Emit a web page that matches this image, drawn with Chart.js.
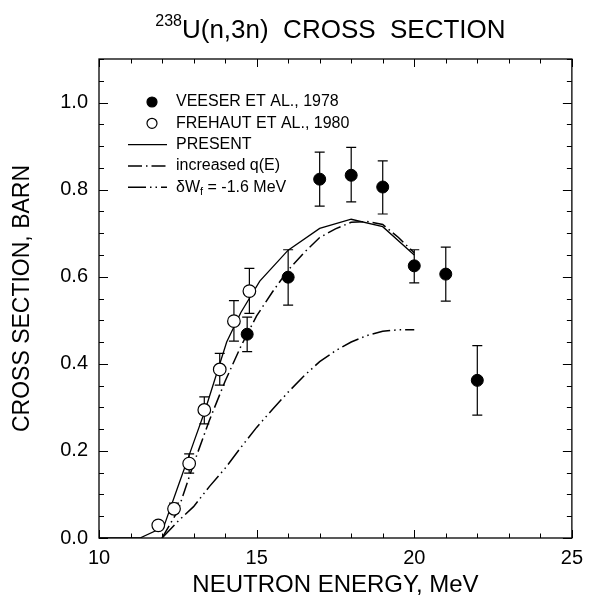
<!DOCTYPE html>
<html>
<head>
<meta charset="utf-8">
<title>238U(n,3n) cross section</title>
<script src="https://cdn.jsdelivr.net/npm/chart.js@4/dist/chart.umd.min.js"></script>
<style>
  html, body { margin: 0; padding: 0; background: #fff; }
  #wrap { width: 591px; height: 607px; }
</style>
</head>
<body>
<div id="wrap"><canvas id="xsChart" width="591" height="607"></canvas></div>
<script>
// Data
const veeserE  = [14.7, 16.0, 17.0, 18.0, 19.0, 20.0, 21.0, 22.0];
const veeserXS = [0.468, 0.599, 0.824, 0.833, 0.806, 0.625, 0.606, 0.362];
const veeserLo = [0.428, 0.535, 0.762, 0.772, 0.744, 0.586, 0.544, 0.282];
const veeserHi = [0.507, 0.662, 0.886, 0.897, 0.866, 0.662, 0.668, 0.442];

const frehautE  = [11.88, 12.38, 12.86, 13.34, 13.83, 14.28, 14.77];
const frehautXS = [0.029, 0.067, 0.171, 0.294, 0.387, 0.498, 0.567];
const frehautLo = [0.029, 0.057, 0.149, 0.262, 0.351, 0.452, 0.516];
const frehautHi = [0.029, 0.080, 0.193, 0.324, 0.424, 0.545, 0.619];

const presentE  = [10, 11.3, 12.05, 12.5, 13.0, 13.35, 14.05, 14.5, 15.1, 16, 17, 18, 19, 20];
const presentXS = [0, 0, 0.025, 0.117, 0.219, 0.29, 0.45, 0.518, 0.59, 0.661, 0.711, 0.732, 0.715, 0.65];

const qE  = [12.0, 12.5, 13.0, 13.5, 14.0, 14.5, 15.0, 15.5, 16.0, 16.5, 17.0, 17.5, 18.0, 18.5, 19.0, 19.5, 20.0];
const qXS = [0, 0.062, 0.17, 0.27, 0.36, 0.44, 0.51, 0.565, 0.615, 0.655, 0.69, 0.71, 0.725, 0.727, 0.72, 0.69, 0.655];

const wfE  = [12.0, 12.5, 13.0, 13.5, 14.0, 14.5, 15.0, 15.5, 16.0, 16.5, 17.0, 17.5, 18.0, 18.5, 19.0, 19.5, 20.0];
const wfXS = [0, 0.038, 0.072, 0.118, 0.16, 0.208, 0.254, 0.295, 0.335, 0.372, 0.405, 0.43, 0.45, 0.465, 0.475, 0.478, 0.478];

const xTickLabels = [10, 15, 20, 25];
const yTickLabels = [0, 0.2, 0.4, 0.6, 0.8, 1.0];

const FONT = "'Liberation Sans', Arial, Helvetica, sans-serif";
Chart.defaults.font.family = FONT;
Chart.defaults.color = '#000';

function toPoints(xs, ys) {
  return xs.map((x, i) => ({ x: x, y: ys[i] }));
}

// error bars for the measured points
const errorBarPlugin = {
  id: 'errorBars',
  beforeDatasetsDraw(chart) {
    const { ctx, scales: { x, y } } = chart;
    ctx.save();
    ctx.strokeStyle = '#000';
    ctx.lineWidth = 1.2;
    chart.data.datasets.forEach(ds => {
      if (!ds.errLo) return;
      ds.data.forEach((p, i) => {
        if (ds.errHi[i] - ds.errLo[i] < 0.001) return;
        const px = x.getPixelForValue(p.x);
        const y1 = y.getPixelForValue(ds.errLo[i]);
        const y2 = y.getPixelForValue(ds.errHi[i]);
        ctx.beginPath();
        ctx.moveTo(px, y1); ctx.lineTo(px, y2);
        ctx.moveTo(px - 5, y1); ctx.lineTo(px + 5, y1);
        ctx.moveTo(px - 5, y2); ctx.lineTo(px + 5, y2);
        ctx.stroke();
      });
    });
    ctx.restore();
  }
};

// box frame with inward ticks on all four sides
const framePlugin = {
  id: 'frame',
  afterDraw(chart) {
    const { ctx, chartArea: a, scales: { x, y } } = chart;
    ctx.save();
    ctx.strokeStyle = '#000';
    ctx.lineWidth = 1.3;
    ctx.strokeRect(a.left, a.top, a.right - a.left, a.bottom - a.top);
    ctx.lineWidth = 1;
    ctx.beginPath();
    for (let e = 10; e <= 25; e++) {
      const px = Math.round(x.getPixelForValue(e)) + 0.5;
      const len = e % 5 === 0 ? 8 : 4.5;
      ctx.moveTo(px, a.bottom); ctx.lineTo(px, a.bottom - len);
      ctx.moveTo(px, a.top); ctx.lineTo(px, a.top + len);
    }
    for (let k = 0; k <= 22; k++) {
      const py = Math.round(y.getPixelForValue(k * 0.05)) + 0.5;
      const len = k % 4 === 0 ? 9 : 5;
      ctx.moveTo(a.left, py); ctx.lineTo(a.left + len, py);
      ctx.moveTo(a.right, py); ctx.lineTo(a.right - len, py);
    }
    ctx.stroke();
    ctx.restore();
  }
};

// title with superscript mass number
const titlePlugin = {
  id: 'supTitle',
  afterDraw(chart) {
    const { ctx, chartArea: a } = chart;
    const sup = '238';
    const main = 'U(n,3n)  CROSS  SECTION';
    ctx.save();
    ctx.fillStyle = '#000';
    ctx.textBaseline = 'alphabetic';
    ctx.font = '16px ' + FONT;
    const wSup = ctx.measureText(sup).width;
    ctx.font = '26px ' + FONT;
    const wMain = ctx.measureText(main).width;
    const x0 = (a.left + a.right) / 2 - 5 - (wSup + wMain) / 2;
    ctx.fillText(main, x0 + wSup, 38);
    ctx.font = '16px ' + FONT;
    ctx.fillText(sup, x0, 26);
    ctx.restore();
  }
};

// legend inside the plot, top left
const legendPlugin = {
  id: 'insideLegend',
  afterDraw(chart) {
    const { ctx, chartArea: a } = chart;
    ctx.save();
    chart.data.datasets.forEach((ds, i) => {
      const cy = a.top + 43 + i * 21.3;
      const mx = a.left + 53;
      ctx.strokeStyle = '#000';
      ctx.fillStyle = '#000';
      if (ds.showLine) {
        ctx.lineWidth = ds.borderWidth;
        ctx.setLineDash(ds.borderDash || []);
        ctx.beginPath();
        ctx.moveTo(a.left + 29, cy);
        ctx.lineTo(a.left + 68, cy);
        ctx.stroke();
        ctx.setLineDash([]);
      } else {
        ctx.lineWidth = 1.2;
        ctx.beginPath();
        ctx.arc(mx, cy, 5, 0, Math.PI * 2);
        ctx.fillStyle = ds.pointBackgroundColor;
        ctx.fill();
        ctx.stroke();
      }
      // label, "_x" marks a one-letter subscript
      ctx.fillStyle = '#000';
      ctx.textBaseline = 'middle';
      let tx = a.left + 77;
      const parts = ds.label.split('_');
      parts.forEach((part, j) => {
        if (j > 0) {
          ctx.font = '11px ' + FONT;
          ctx.fillText(part[0], tx, cy + 5);
          tx += ctx.measureText(part[0]).width;
          part = part.slice(1);
        }
        ctx.font = '16px ' + FONT;
        ctx.fillText(part, tx, cy);
        tx += ctx.measureText(part).width;
      });
    });
    ctx.restore();
  }
};

const ctx = document.getElementById('xsChart').getContext('2d');
const xsChart = new Chart(ctx, {
  type: 'scatter',
  data: {
    datasets: [
      {
        label: 'VEESER ET AL., 1978',
        data: toPoints(veeserE, veeserXS),
        errLo: veeserLo, errHi: veeserHi,
        showLine: false,
        pointRadius: 6,
        pointBackgroundColor: '#000',
        pointBorderColor: '#000',
        pointBorderWidth: 1
      },
      {
        label: 'FREHAUT ET AL., 1980',
        data: toPoints(frehautE, frehautXS),
        errLo: frehautLo, errHi: frehautHi,
        showLine: false,
        pointRadius: 6.3,
        pointBackgroundColor: '#fff',
        pointBorderColor: '#000',
        pointBorderWidth: 1.2
      },
      {
        label: 'PRESENT',
        data: toPoints(presentE, presentXS),
        showLine: true,
        borderColor: '#000',
        borderWidth: 1.3,
        pointRadius: 0,
        tension: 0
      },
      {
        label: 'increased q(E)',
        data: toPoints(qE, qXS),
        showLine: true,
        borderColor: '#000',
        borderWidth: 1.5,
        borderDash: [14, 4, 1.5, 4],
        pointRadius: 0,
        tension: 0
      },
      {
        label: 'δW_f = -1.6 MeV',
        data: toPoints(wfE, wfXS),
        showLine: true,
        borderColor: '#000',
        borderWidth: 1.5,
        borderDash: [18, 4, 1.5, 4, 1.5, 4],
        pointRadius: 0,
        tension: 0
      }
    ]
  },
  options: {
    responsive: false,
    animation: false,
    layout: { padding: { left: 0, right: 11, top: 59, bottom: 0 } },
    plugins: {
      legend: { display: false },
      tooltip: { enabled: false }
    },
    scales: {
      x: {
        type: 'linear',
        min: 10, max: 25,
        grid: { display: false, drawTicks: false },
        border: { display: false },
        afterBuildTicks: s => { s.ticks = xTickLabels.map(v => ({ value: v })); },
        afterFit: s => { s.height = 69; },
        ticks: { font: { size: 20 }, padding: 8, maxRotation: 0, autoSkip: false },
        title: {
          display: true,
          text: 'NEUTRON ENERGY, MeV',
          font: { size: 24 },
          padding: { top: 0, bottom: 7 }
        }
      },
      y: {
        type: 'linear',
        min: 0, max: 1.1,
        grid: { display: false, drawTicks: false },
        border: { display: false },
        afterBuildTicks: s => { s.ticks = yTickLabels.map(v => ({ value: v })); },
        afterFit: s => { s.width = 99; },
        ticks: { font: { size: 20 }, padding: 11, callback: v => v.toFixed(1) },
        title: {
          display: true,
          text: 'CROSS SECTION, BARN',
          font: { size: 23 },
          padding: { top: 9, bottom: 0 }
        }
      }
    }
  },
  plugins: [errorBarPlugin, framePlugin, titlePlugin, legendPlugin]
});
</script>
</body>
</html>
